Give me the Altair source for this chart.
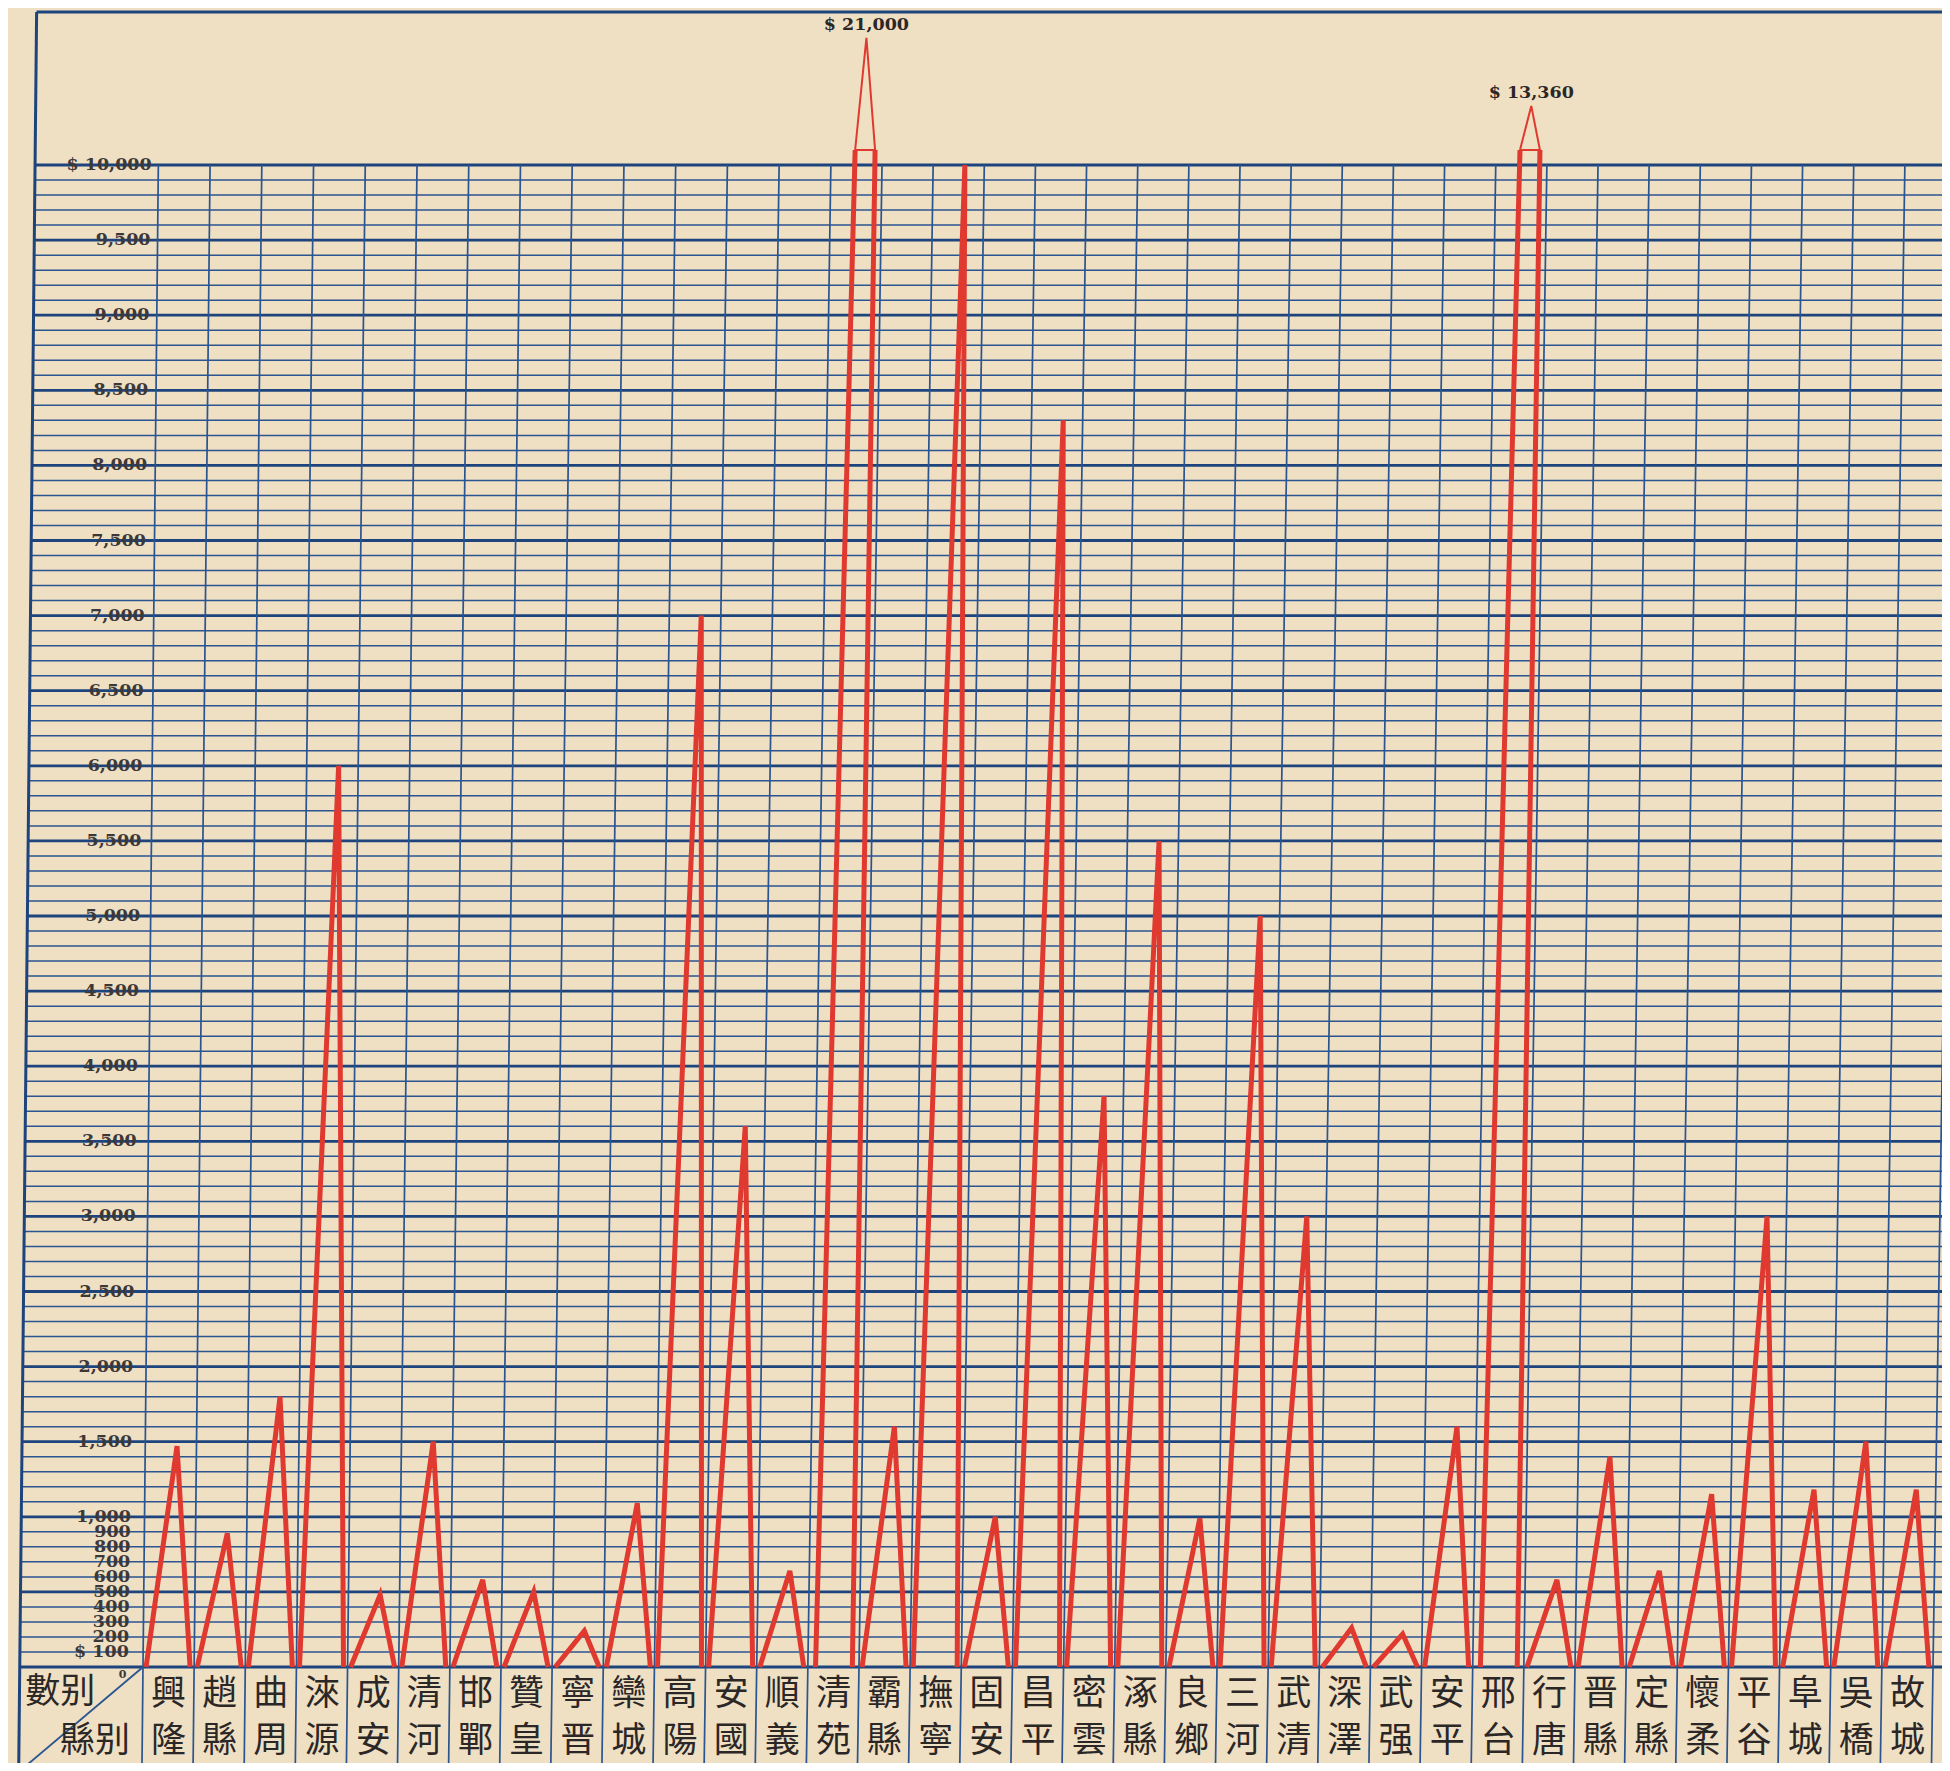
import altair as alt
import pandas as pd

# ---------------- data ----------------
counties = ["興隆", "趙縣", "曲周", "淶源", "成安", "清河", "邯鄲", "贊皇", "寧晋", "欒城",
            "高陽", "安國", "順義", "清苑", "霸縣", "撫寧", "固安", "昌平", "密雲", "涿縣",
            "良鄉", "三河", "武清", "深澤", "武强", "安平", "邢台", "行唐", "晋縣", "定縣",
            "懷柔", "平谷", "阜城", "吳橋", "故城"]
amounts = [1470, 890, 1800, 6000, 480, 1500, 580, 500, 240, 1090,
           7000, 3600, 640, 21000, 1600, 10000, 1000, 8300, 3800, 5500,
           990, 5000, 3000, 260, 220, 1600, 13360, 580, 1400, 640,
           1150, 3000, 1180, 1500, 1180]
tick_values = [100, 200, 300, 400, 500, 600, 700, 800, 900, 1000,
               1500, 2000, 2500, 3000, 3500, 4000, 4500, 5000, 5500,
               6000, 6500, 7000, 7500, 8000, 8500, 9000, 9500, 10000]
tick_labels = ["$ 100", "200", "300", "400", "500", "600", "700", "800", "900", "1,000",
               "1,500", "2,000", "2,500", "3,000", "3,500", "4,000", "4,500", "5,000", "5,500",
               "6,000", "6,500", "7,000", "7,500", "8,000", "8,500", "9,000", "9,500", "$ 10,000"]
row_header = "數别"
col_header = "縣别"

# ---------------- styling / layout ----------------
PAPER = "#efdfc3"
BLUE = "#2a5590"
BLUE_BOLD = "#1d447d"
RED = "#e0392f"
INK = "#2b2727"
GREY_INK = "#3d3838"

W, H = 1934, 1755
BREAK = 10000      # top of the ruled grid
CAP = 10100        # where the broken (off-scale) spikes are capped
LOW = -700         # bottom of the name row
TOP = 23900        # top frame line
FRAME_U = -2.41    # left frame, in column units
RIGHT_U = 36.0
LABEL_LEAN = 0.45  # drift of the printed scale figures


def lean(v, u):
    """horizontal drift (in columns) of the printed ruling at height v, column u:
    the sheet leans, a little less near its left edge"""
    s = 0.30 + 0.15 * min(max(u, 0.0), 13.0) / 13.0
    return s * min(v, 11000) / BREAK


XS = alt.Scale(domain=[0, 35], range=[135, 1925], nice=False, zero=False)
YS = alt.Scale(domain=[LOW, 0, CAP, 12000, 24000],
               range=[1764, 1659, 142, 110, 3.2], nice=False, zero=False)


def xf(f):
    return alt.X(f, type="quantitative", scale=XS, axis=None)


def yf(f):
    return alt.Y(f, type="quantitative", scale=YS, axis=None)


# ---------------- grid ----------------
grid_vals = list(range(0, BREAK + 1, 100))
gdf = pd.DataFrame({"v": grid_vals,
                    "x0": [FRAME_U + lean(g, FRAME_U) for g in grid_vals]})
h_thin = alt.Chart(gdf[gdf.v % 500 != 0]).mark_rule(color=BLUE, strokeWidth=1.5).encode(
    y=yf("v"), x=xf("x0"), x2=alt.X2Datum(RIGHT_U))
h_bold = alt.Chart(gdf[gdf.v % 500 == 0]).mark_rule(color=BLUE_BOLD, strokeWidth=2.8).encode(
    y=yf("v"), x=xf("x0"), x2=alt.X2Datum(RIGHT_U))

bounds = list(range(0, len(counties) + 1))
cols = pd.DataFrame({"xa": [b + lean(LOW, b) for b in bounds],
                     "xb": [b + lean(BREAK, b) for b in bounds],
                     "ya": [LOW] * len(bounds), "yb": [BREAK] * len(bounds)})
v_lines = alt.Chart(cols).mark_rule(color=BLUE, strokeWidth=1.7).encode(
    x=xf("xa"), x2="xb:Q", y=yf("ya"), y2="yb:Q")

frame_df = pd.DataFrame({"xa": [FRAME_U + lean(LOW, FRAME_U), FRAME_U + lean(TOP, FRAME_U)],
                         "xb": [FRAME_U + lean(TOP, FRAME_U), RIGHT_U],
                         "ya": [LOW, TOP], "yb": [TOP, TOP]})
frame = alt.Chart(frame_df).mark_rule(color=BLUE_BOLD, strokeWidth=3).encode(
    x=xf("xa"), x2="xb:Q", y=yf("ya"), y2="yb:Q")

diag_df = pd.DataFrame({"xa": [FRAME_U + lean(LOW, FRAME_U)], "xb": [0.0],
                        "ya": [LOW], "yb": [0]})
diagonal = alt.Chart(diag_df).mark_rule(color=BLUE, strokeWidth=1.8).encode(
    x=xf("xa"), x2="xb:Q", y=yf("ya"), y2="yb:Q")

# ---------------- y labels ----------------
ticks = pd.DataFrame({"v": tick_values, "label": tick_labels,
                      "x": [-0.28 + LABEL_LEAN * t / BREAK for t in tick_values]})
y_labels = alt.Chart(ticks).mark_text(
    font="DejaVu Serif", fontWeight="bold", fontSize=17.5, color=GREY_INK,
    align="right", baseline="middle").encode(
    x=xf("x"), y=yf("v"), text="label:N")
zero_label = alt.Chart(pd.DataFrame({"v": [0], "x": [-0.4], "label": ["0"]})).mark_text(
    font="DejaVu Serif", fontWeight="bold", fontSize=11, color=GREY_INK,
    align="center", baseline="top", dy=2).encode(
    x=xf("x"), y=yf("v"), text="label:N")

# ---------------- spikes ----------------
thick, thin, peaks = [], [], []
for i, v in enumerate(amounts):
    if v <= BREAK:
        pts = [(i + 0.06, 0), (i + 0.62, v), (i + 0.92, 0)]
        for k, (u, y) in enumerate(pts):
            thick.append({"seg": f"s{i}", "ord": k, "u": u + lean(y, u), "v": y})
    else:
        for k, (u, y) in enumerate([(i + 0.15, 0), (i + 0.47, CAP)]):
            thick.append({"seg": f"s{i}a", "ord": k, "u": u + lean(y, u), "v": y})
        for k, (u, y) in enumerate([(i + 0.86, CAP), (i + 0.87, 0)]):
            thick.append({"seg": f"s{i}b", "ord": k, "u": u + lean(y, u), "v": y})
        for k, (u, y) in enumerate([(i + 0.47, CAP), (i + 0.65, v),
                                    (i + 0.86, CAP), (i + 0.47, CAP)]):
            thin.append({"seg": f"t{i}", "ord": k, "u": u + lean(y, u), "v": y})
        peaks.append({"u": i + 0.65 + lean(v, i + 0.65), "v": v, "label": f"$ {v:,}"})

spikes = alt.Chart(pd.DataFrame(thick)).mark_line(
    color=RED, strokeWidth=5, strokeJoin="miter").encode(
    x=xf("u"), y=yf("v"), detail="seg:N", order=alt.Order("ord:Q"))
spikes_top = alt.Chart(pd.DataFrame(thin)).mark_line(
    color=RED, strokeWidth=2).encode(
    x=xf("u"), y=yf("v"), detail="seg:N", order=alt.Order("ord:Q"))
peak_labels = alt.Chart(pd.DataFrame(peaks)).mark_text(
    font="DejaVu Serif", fontWeight="bold", fontSize=17.5, color=INK,
    align="center", baseline="bottom", dy=-4).encode(
    x=xf("u"), y=yf("v"), text="label:N")

# ---------------- county names (two stacked characters) ----------------
name_rows = []
for i, c in enumerate(counties):
    name_rows.append({"u": i + 0.5, "v": -178, "ch": c[0]})
    name_rows.append({"u": i + 0.5, "v": -490, "ch": c[1]})
names = alt.Chart(pd.DataFrame(name_rows)).mark_text(
    font="Noto Sans CJK TC", fontSize=35, color=INK,
    align="center", baseline="middle").encode(
    x=xf("u"), y=yf("v"), text="ch:N")

heads = pd.DataFrame({"u": [-1.62, -0.94], "v": [-168, -490],
                      "t": [row_header, col_header]})
header = alt.Chart(heads).mark_text(
    font="Noto Sans CJK TC", fontSize=35, color=INK,
    align="center", baseline="middle").encode(
    x=xf("u"), y=yf("v"), text="t:N")

chart = alt.layer(
    h_thin, h_bold, v_lines, frame, diagonal,
    y_labels, zero_label, spikes, spikes_top, peak_labels, names, header
).properties(
    width=W, height=H,
    autosize=alt.AutoSizeParams(type="none"),
    padding=0,
    background=PAPER,
).configure_view(strokeWidth=0)

chart.save("out.html", embed_options={"renderer": "svg", "actions": False})
